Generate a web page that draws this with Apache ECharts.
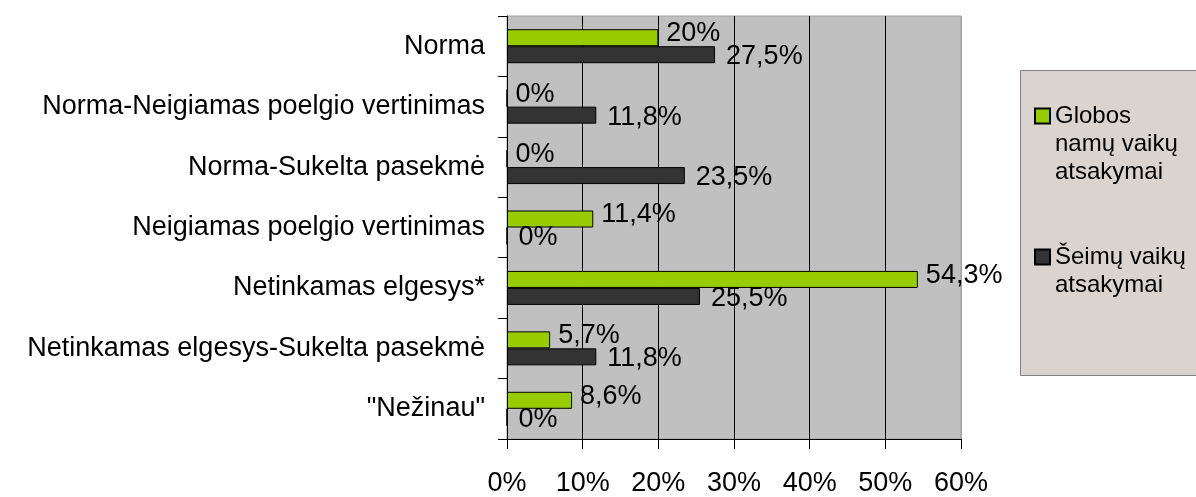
<!DOCTYPE html>
<html>
<head>
<meta charset="utf-8">
<script src="https://cdn.jsdelivr.net/npm/echarts@6/dist/echarts.min.js"></script>
<style>
  html, body { margin: 0; padding: 0; background: #fff; }
  #chart { width: 1196px; height: 497px; }
</style>
</head>
<body>
<div id="chart"></div>
<script>
// chart data
const categories = [
  'Norma',
  'Norma-Neigiamas poelgio vertinimas',
  'Norma-Sukelta pasekmė',
  'Neigiamas poelgio vertinimas',
  'Netinkamas elgesys*',
  'Netinkamas elgesys-Sukelta pasekmė',
  '"Nežinau"'
]
const globosValues = [20, 0, 0, 11.4, 54.3, 5.7, 8.6]
const seimuValues = [27.5, 11.8, 23.5, 0, 25.5, 11.8, 0]
const seriesNames = ['Globos\nnamų vaikų\natsakymai', 'Šeimų vaikų\natsakymai']

const font = 'Liberation Sans, Arial, sans-serif'
const fmt = (p) => String(p.value).replace('.', ',') + '%'

// legend square sits next to the first text line (icon box is as tall as the text)
const iconFor = (h) => 'path://M0,0L0,0M0,6.5L15,6.5L15,21.5L0,21.5ZM0,' + h + 'L0,' + h

const legendText = { fontFamily: font, fontSize: 24, lineHeight: 28, color: '#000' }

const chart = echarts.init(document.getElementById('chart'))

chart.setOption({
  animation: false,
  backgroundColor: '#fff',
  textStyle: { fontFamily: font, color: '#000' },
  grid: {
    left: 507,
    right: 235,
    top: 16,
    bottom: 57,
    show: true,
    backgroundColor: '#c0c0c0',
    borderColor: '#a0a0a0',
    borderWidth: 1
  },
  graphic: [
    {
      type: 'rect',
      z: -1,
      shape: { x: 1020.5, y: 70.5, width: 200, height: 305 },
      style: { fill: '#dad4d0', stroke: '#808080', lineWidth: 1 }
    }
  ],
  legend: [
    {
      left: 1034,
      top: 101,
      itemWidth: 15,
      itemHeight: 84,
      itemGap: 0,
      padding: 0,
      icon: iconFor(84),
      data: [seriesNames[0]],
      textStyle: legendText
    },
    {
      left: 1034,
      top: 242,
      itemWidth: 15,
      itemHeight: 56,
      itemGap: 0,
      padding: 0,
      icon: iconFor(56),
      data: [seriesNames[1]],
      textStyle: legendText
    }
  ],
  xAxis: {
    type: 'value',
    min: 0,
    max: 60,
    interval: 10,
    axisLine: { show: true, lineStyle: { color: '#000', width: 1 } },
    axisTick: { show: true, length: 10, lineStyle: { color: '#000' } },
    axisLabel: {
      formatter: '{value}%',
      margin: 31,
      fontSize: 27,
      fontFamily: font,
      color: '#000'
    },
    splitLine: {
      show: true,
      lineStyle: { color: ['#000', '#000', '#000', '#000', '#000', '#000', '#a0a0a0'], width: 1 }
    }
  },
  yAxis: {
    type: 'category',
    data: categories,
    inverse: true,
    axisLine: { show: true, lineStyle: { color: '#000', width: 1 } },
    axisTick: { show: true, length: 9, lineStyle: { color: '#000' } },
    axisLabel: {
      margin: 22,
      fontSize: 27,
      fontFamily: font,
      color: '#000'
    }
  },
  series: [
    {
      name: seriesNames[0],
      type: 'bar',
      data: globosValues,
      barWidth: 17,
      barGap: '0%',
      itemStyle: { color: '#99cc00', borderColor: '#000', borderWidth: 1 },
      label: {
        show: true,
        position: 'right',
        distance: 8,
        offset: [0, -4],
        formatter: fmt,
        fontSize: 27,
        fontFamily: font,
        color: '#000'
      }
    },
    {
      name: seriesNames[1],
      type: 'bar',
      data: seimuValues,
      barWidth: 17,
      itemStyle: { color: '#333333', borderColor: '#000', borderWidth: 1 },
      label: {
        show: true,
        position: 'right',
        distance: 11,
        offset: [0, 2],
        formatter: fmt,
        fontSize: 27,
        fontFamily: font,
        color: '#000'
      }
    }
  ]
})
</script>
</body>
</html>
